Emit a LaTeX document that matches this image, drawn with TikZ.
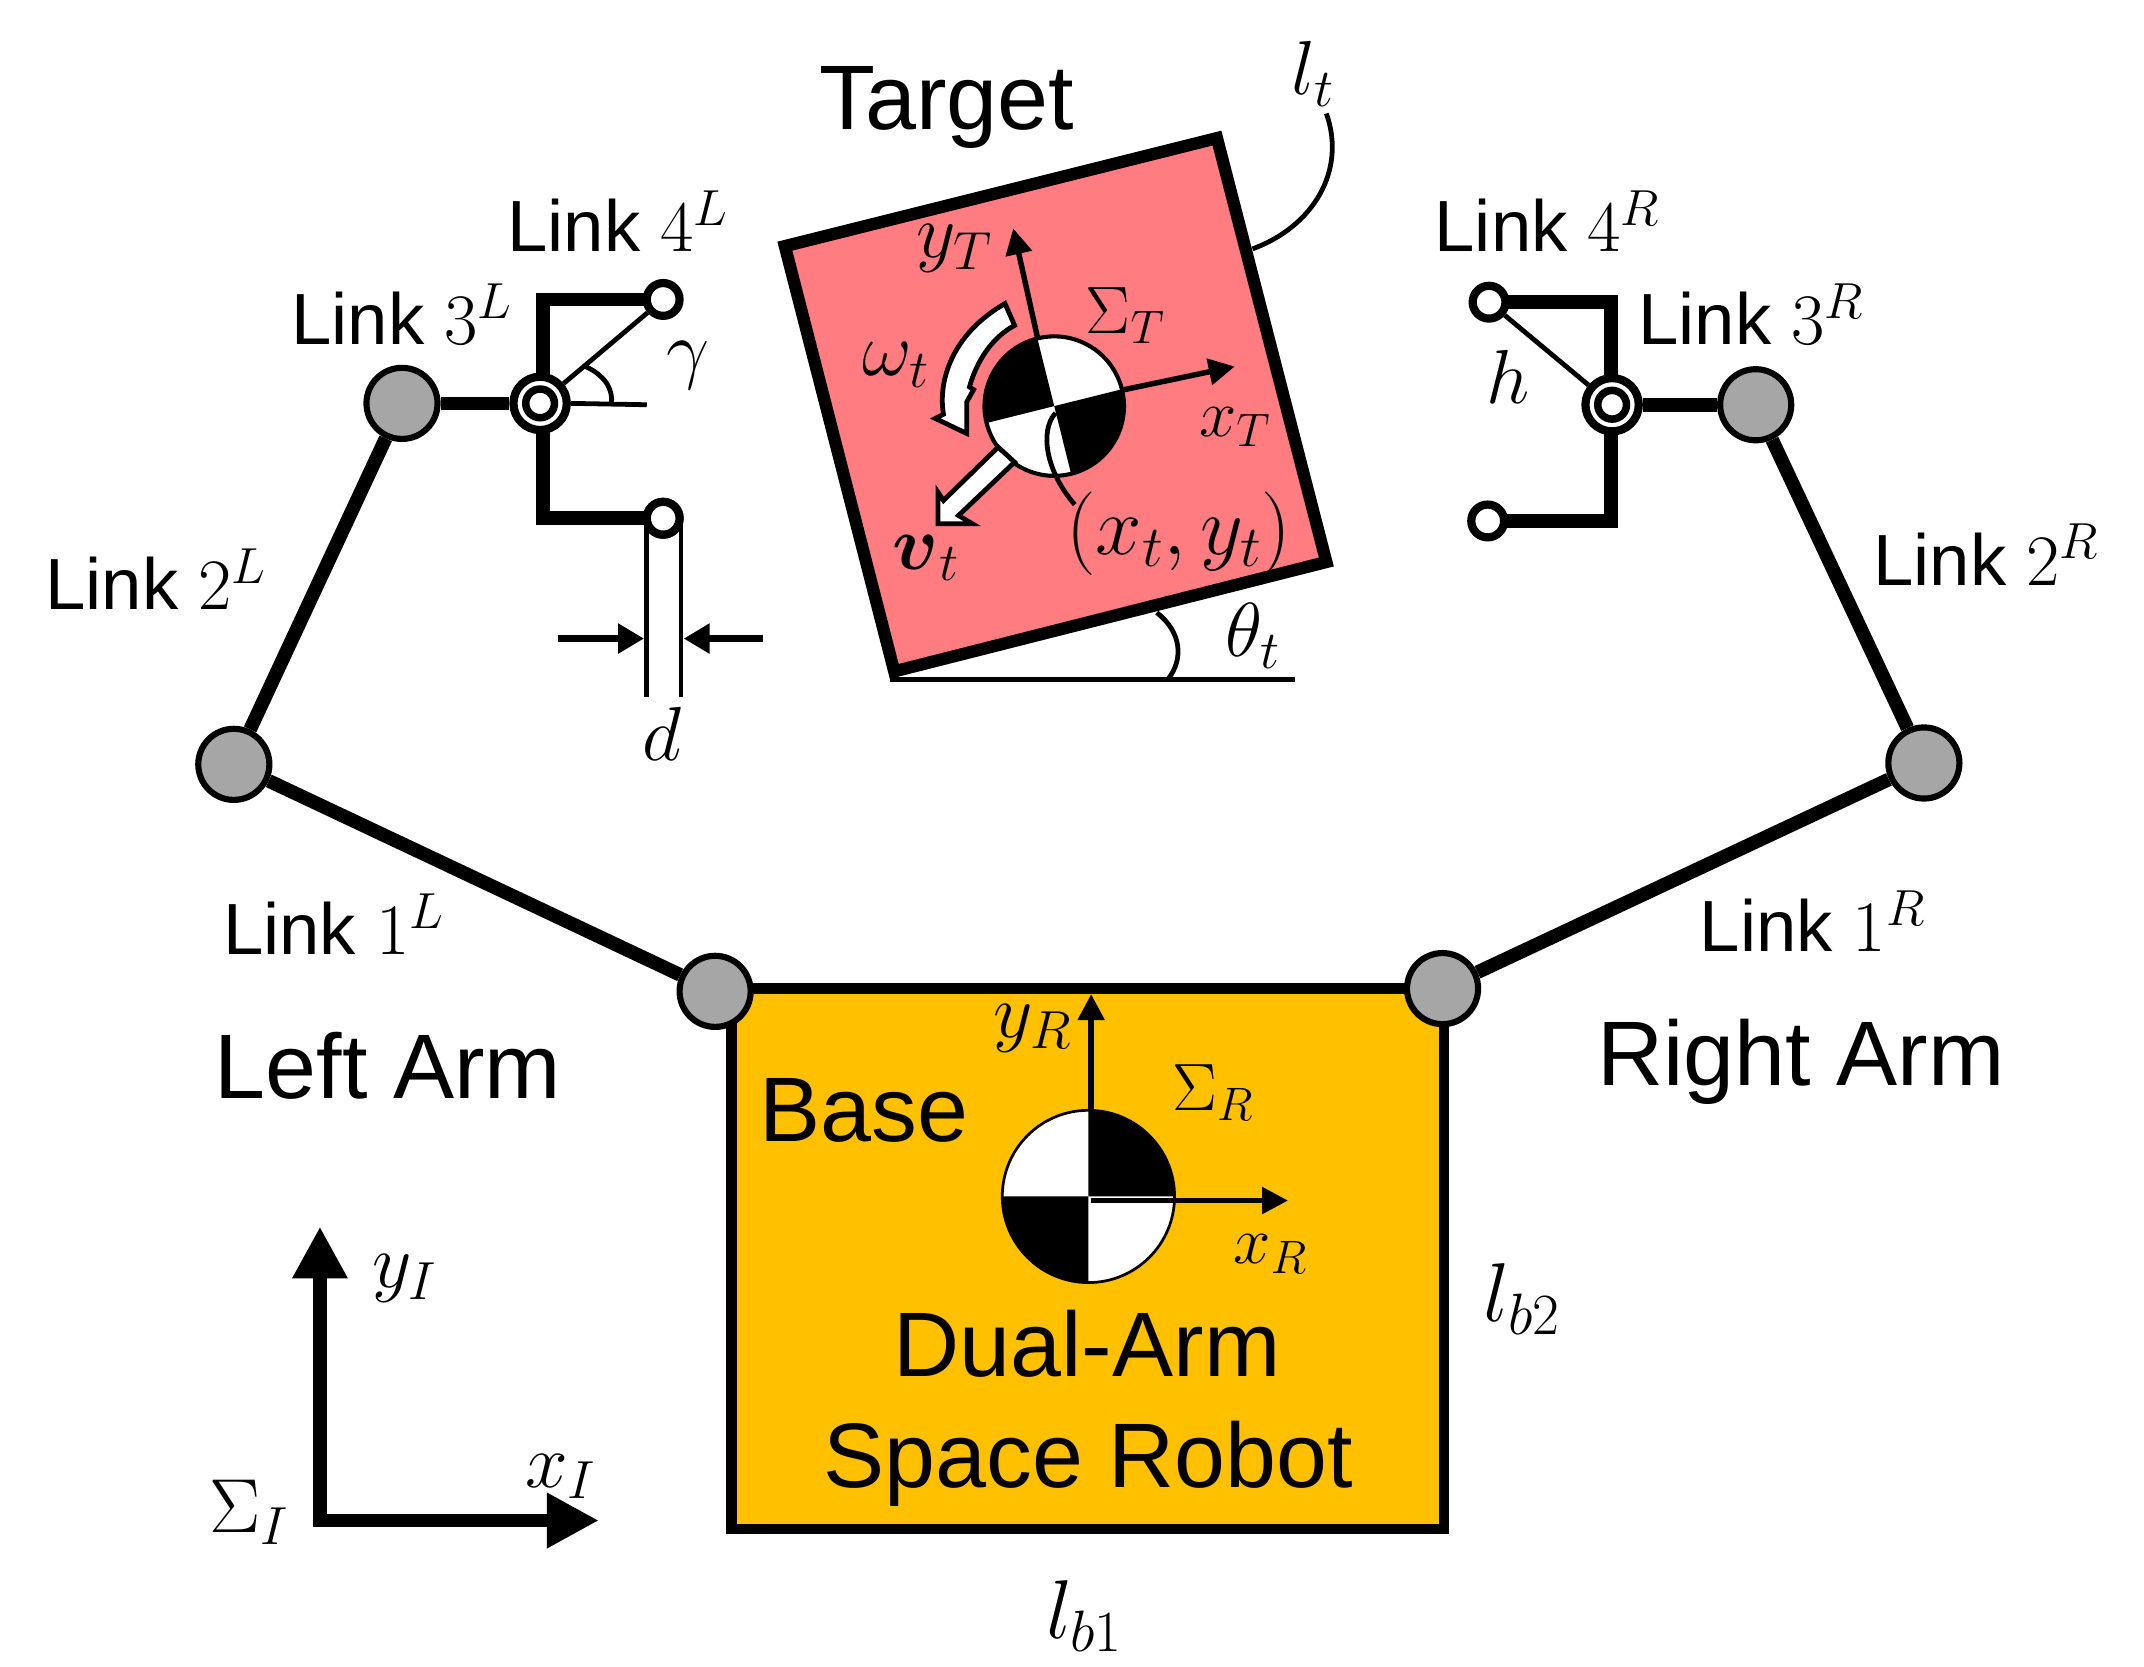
\RequirePackage{fix-cm}
\documentclass[tikz,border=0pt]{standalone}
\usepackage{amsmath}
\usepackage[no-math]{fontspec}
\setmainfont{Liberation Sans}
\usetikzlibrary{arrows.meta}
\definecolor{tgt}{HTML}{FF7C80}
\definecolor{bas}{HTML}{FFC000}
\definecolor{jnt}{HTML}{A6A6A6}
\tikzset{
  big/.style={inner sep=0pt,font=\fontsize{67}{70}\selectfont},
  lnk/.style={inner sep=0pt,anchor=base west,font=\fontsize{53}{56}\selectfont},
  mth/.style={inner sep=0pt,font=\fontsize{56}{60}\selectfont},
  mthb/.style={inner sep=0pt,font=\fontsize{61}{64}\selectfont},
  mths/.style={inner sep=0pt,font=\fontsize{49}{54}\selectfont},
  joint/.style={circle,draw=black,fill=jnt,line width=4.5pt,minimum size=52pt,inner sep=0pt},
  finger/.style={circle,draw=black,fill=white,line width=6pt,minimum size=24pt,inner sep=0pt},
  wrista/.style={circle,draw=black,fill=white,line width=6pt,minimum size=39pt,inner sep=0pt},
  wristb/.style={circle,draw=black,fill=white,line width=5.5pt,minimum size=21pt,inner sep=0pt},
  linkbar/.style={line width=10pt},
  thin line/.style={line width=3.5pt},
  ax/.style={line width=4pt,-{Triangle[length=19pt,width=19pt]}},
  dimar/.style={line width=5pt,-{Triangle[length=19pt,width=21pt]}},
  inax/.style={line width=10pt,-{Triangle[length=38pt,width=38pt]}},
  white arrow/.style={draw=black,fill=white,line width=3.5pt,line join=miter}
}
\begin{document}
\begin{tikzpicture}[x=1pt,y=-1pt]
\useasboundingbox (0,0) rectangle (1568,1219);
% target
\draw[fill=tgt,line width=9pt,line join=miter] (574,180) -- (890,101) -- (970,411) -- (654,491) -- cycle;
\coordinate (tc) at (771,297);
\begin{scope}[shift={(771,297)},x=1pt,y=1pt,rotate=14]
\fill[white] (0,0) circle[radius=51pt];
\fill[black] (0,0) -- (51pt,0pt) arc[start angle=0,end angle=-90,radius=51pt] -- cycle;
\fill[black] (0,0) -- (-51pt,0pt) arc[start angle=180,end angle=90,radius=51pt] -- cycle;
\draw[line width=3pt] (0,0) circle[radius=51pt];
\end{scope}
\coordinate (xts) at (822,285); \coordinate (xte) at (903,268);
\coordinate (yts) at (759,248); \coordinate (yte) at (741,167);
\draw[ax] (xts) -- (xte);
\draw[ax] (yts) -- (yte);
\draw[white arrow] (735,222) -- (742,238) .. controls (725,247) and (714,265) .. (709,283) -- (712,285) -- (707,294) -- (707,317) -- (684,306) -- (690,303) .. controls (686,280) and (695,245) .. cycle;
\draw[white arrow] (730,327) -- (742,338) -- (701,377) -- (711,383) -- (686,383) -- (686,360) -- (690,366) -- cycle;
\draw[thin line] (772,302) .. controls (760,315) and (765,345) .. (786,369);
\draw[thin line] (916,182) .. controls (960,166) and (985,125) .. (970,83);
\draw[thin line] (651,497) -- (947,497);
\draw[thin line] (846,448) .. controls (864,462) and (866,482) .. (854,497);
% base
\draw[fill=bas,line width=7.5pt,line join=miter] (535,723) rectangle (1056,1118);
\begin{scope}[shift={(796,875)},x=1pt,y=1pt]
\fill[white] (0,0) circle[radius=63pt];
\fill[black] (0,0) -- (63pt,0pt) arc[start angle=0,end angle=90,radius=63pt] -- cycle;
\fill[black] (0,0) -- (-63pt,0pt) arc[start angle=180,end angle=270,radius=63pt] -- cycle;
\draw[line width=2pt] (0,0) circle[radius=63pt];
\end{scope}
\coordinate (yrs) at (798,812); \coordinate (yre) at (798,727);
\coordinate (xrs) at (798,878); \coordinate (xre) at (942,878);
\draw[ax] (yrs) -- (yre);
\draw[ax] (xrs) -- (xre);
% joints
\node[joint] (jl1) at (523,725) {};
\node[joint] (jl2) at (171,559) {};
\node[joint] (jl3) at (294,295) {};
\node[joint] (jr1) at (1055,723) {};
\node[joint] (jr2) at (1407,558) {};
\node[joint] (jr3) at (1284,296) {};
\node[wrista] (wl) at (395,295) {};
\node[wristb] (wli) at (395,295) {};
\node[wrista] (wr) at (1179,296) {};
\node[wristb] (wri) at (1179,296) {};
\node[finger] (fl1) at (485,219) {};
\node[finger] (fl2) at (485,379) {};
\node[finger] (fr1) at (1089,221) {};
\node[finger] (fr2) at (1088,381) {};
\coordinate (cl1) at (397,219); \coordinate (cl2) at (397,379);
\coordinate (cr1) at (1178,221); \coordinate (cr2) at (1178,381);
\draw[linkbar] (jl1) -- (jl2);
\draw[linkbar] (jl2) -- (jl3);
\draw[linkbar] (jl3) -- (wl);
\draw[linkbar] (jr1) -- (jr2);
\draw[linkbar] (jr2) -- (jr3);
\draw[linkbar] (jr3) -- (wr);
\draw[linkbar,line cap=rect] (fl1.west) -- (cl1) -- (wl.north -| cl1);
\draw[linkbar,line cap=rect] (fl2.west) -- (cl2) -- (wl.south -| cl2);
\draw[linkbar,line cap=rect] (fr1.east) -- (cr1) -- (wr.north -| cr1);
\draw[linkbar,line cap=rect] (fr2.east) -- (cr2) -- (wr.south -| cr2);
\draw[thin line] (wl) -- (fl1);
\draw[thin line] (wr) -- (fr1);
\coordinate (gend) at (473,296);
\draw[thin line] (wl.east) -- (gend);
\draw[thin line] (428,268) .. controls (442,274) and (449,285) .. (447,296);
\coordinate (da) at (473,510); \coordinate (db) at (498,510);
\draw[thin line] (da |- fl2) -- (da);
\draw[thin line] (db |- fl2) -- (db);
\node[finger] (fl2top) at (485,379) {};
\coordinate (dl) at (408,467); \coordinate (dle) at (471,467);
\coordinate (dr) at (558,467); \coordinate (dre) at (500,467);
\draw[dimar] (dl) -- (dle);
\draw[dimar] (dr) -- (dre);
% inertial axes
\coordinate (iyb) at (234,1116); \coordinate (iy) at (234,897); \coordinate (ixb) at (229,1112); \coordinate (ix) at (438,1112);
\draw[inax] (iyb) -- (iy);
\draw[inax] (ixb) -- (ix);
% texts
\node[big,anchor=base west] (tTarget) at (599,95) {Target};
\node[big,anchor=base west] (tLeft) at (157,803) {Left Arm};
\node[big,anchor=base west] (tRight) at (1168,794) {Right Arm};
\node[big,anchor=base west] (tBase) at (555,835) {Base};
\node[big,anchor=base] (tDual) at (795,1007) {Dual-Arm};
\node[big,anchor=base] (tSpace) at (796,1088) {Space Robot};
\node[lnk] (l4l) at (371,184) {Link $4^{L}$};
\node[lnk] (l3l) at (213,252) {Link $3^{L}$};
\node[lnk] (l2l) at (33,446) {Link $2^{L}$};
\node[lnk] (l1l) at (163,698) {Link $1^{L}$};
\node[lnk] (l4r) at (1049,184) {Link $4^{R}$};
\node[lnk] (l3r) at (1198,252) {Link $3^{R}$};
\node[lnk] (l2r) at (1370,428) {Link $2^{R}$};
\node[lnk] (l1r) at (1243,696) {Link $1^{R}$};
\node[mth] (mg) at (503,267) {$\gamma$};
\node[mth] (mh) at (1103,276) {$h$};
\node[mth] (md) at (484,537) {$d$};
\node[mth] (mtheta) at (916,465) {$\theta_t$};
\node[mth] (mlt) at (960,54) {$l_t$};
\node[mth] (myt) at (698,182) {$y_T$};
\node[mths] (mst) at (823,231) {$\Sigma_T$};
\node[mth] (mot) at (655,267) {$\omega_t$};
\node[mths] (mxt) at (903,312) {$x_T$};
\node[mth] (mvt) at (677,408) {$\boldsymbol{v}_t$};
\node[mthb] (mpt) at (862,390) {$(x_t,y_t)$};
\node[mth] (myr) at (755,752) {$y_R$};
\node[mths] (msr) at (887,799) {$\Sigma_R$};
\node[mths] (mxr) at (929,917) {$x_R$};
\node[mthb] (mb2) at (1113,950) {$l_{b2}$};
\node[mthb] (mb1) at (793,1182) {$l_{b1}$};
\node[mth] (myi) at (296,935) {$y_I$};
\node[mth] (mxi) at (410,1080) {$x_I$};
\node[mth] (msi) at (182,1106) {$\Sigma_I$};
\end{tikzpicture}
\end{document}
